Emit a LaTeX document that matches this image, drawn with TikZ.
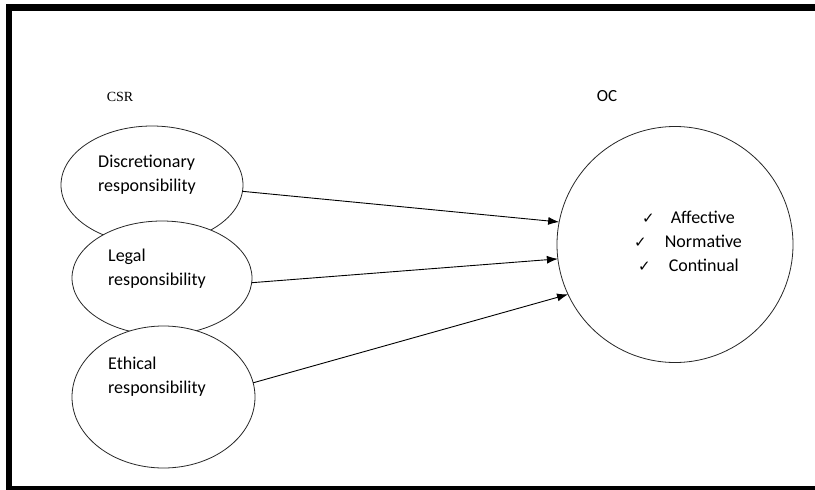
\documentclass[tikz,border=0pt]{standalone}
\usepackage{fontspec}
\setmainfont{Carlito}
\newfontfamily\csrfont{Liberation Serif}
\newfontfamily\chkfont{DejaVu Sans}
\usetikzlibrary{shapes.geometric}
\usetikzlibrary{arrows.meta}

\newcommand{\tick}{{\chkfont\fontsize{15}{15}\selectfont ✓}}

\begin{document}
\begin{tikzpicture}[x=1pt, y=-1pt, >={Latex[length=11pt, width=8pt]}]
    \tikzset{
        resp/.style={ellipse, draw=black!85, fill=white, line width=0.8pt, inner sep=0pt, outer sep=0pt},
        txt/.style={anchor=base west, inner sep=0pt, font=\fontsize{18}{24}\selectfont, align=left},
        link/.style={->, line width=0.9pt}
    }
    \useasboundingbox (0,0) rectangle (815,490);

    % frame
    \fill (6,4) rectangle (815,11);
    \fill (6,4) rectangle (12,490);
    \fill (6,486) rectangle (815,490);

    % headings
    \node [anchor=base, inner sep=0pt, font=\csrfont\fontsize{14}{16}\selectfont] (csr) at (120,101) {CSR};
    \node [anchor=base, inner sep=0pt, font=\fontsize{17}{18}\selectfont] (ochead) at (607,101) {OC};

    % CSR dimensions
    \node [resp, minimum width=182, minimum height=118] (disc) at (152,185) {};
    \node [resp, minimum width=180, minimum height=114] (legal) at (162,278) {};
    \node [resp, minimum width=183, minimum height=142] (ethic) at (163.5,397) {};

    % base of a two-line node is its last line
    \node [txt] (disctext) at (98,191) {Discretionary\\responsibility};
    \node [txt] (legaltext) at (108,285) {Legal\\responsibility};
    \node [txt] (ethictext) at (108,393) {Ethical\\responsibility};

    % OC
    \node [circle, draw=black!85, line width=0.8pt, minimum size=236, inner sep=0pt, outer sep=0pt] (oc) at (675,244.5) {};
    \node [txt] (aff) at (642,223) {\tick\hspace{16pt}Affective};
    \node [txt] (norm) at (634,247) {\tick\hspace{18pt}Normative};
    \node [txt] (cont) at (638,271) {\tick\hspace{18pt}Continual};

    \draw [link] (disc.-4) -- (oc.169);
    \draw [link] (legal.-3) -- (oc.187);
    \draw [link] (ethic.9) -- (oc.205);

\end{tikzpicture}
\end{document}
